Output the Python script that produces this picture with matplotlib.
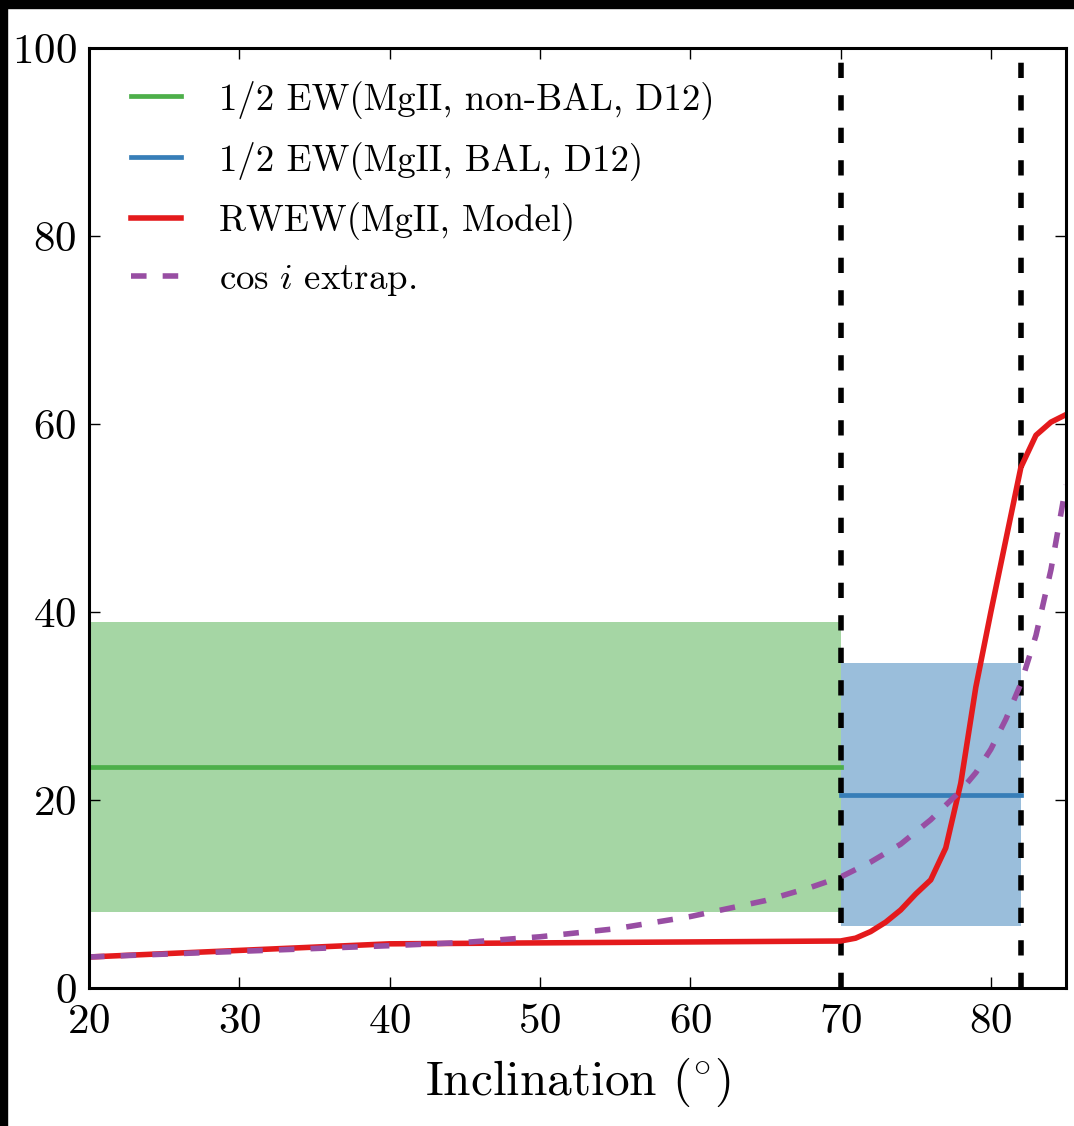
import matplotlib
matplotlib.use("Agg")
import matplotlib.pyplot as plt
from matplotlib.patches import Rectangle

plt.rcParams['font.family'] = 'serif'
plt.rcParams['font.serif'] = ['cmr10']
plt.rcParams['mathtext.fontset'] = 'cm'
plt.rcParams['axes.formatter.use_mathtext'] = True
plt.rcParams['axes.unicode_minus'] = False

# Model rest-frame equivalent width of MgII versus inclination
incl_model = [20, 25, 30, 35, 40, 45, 50, 55, 60, 65, 70, 71, 72, 73, 74, 75,
              76, 77, 78, 79, 80, 81, 82, 83, 84, 85]
rwew_model = [3.3, 3.65, 4.0, 4.35, 4.7, 4.75, 4.8, 4.85, 4.9, 4.95, 5.0, 5.3,
              6.0, 7.0, 8.3, 10.0, 11.5, 14.9, 21.8, 32.0, 40.0, 47.7, 55.4,
              58.8, 60.2, 61.0]

# cos i extrapolation
incl_cos = [20, 25, 30, 35, 40, 45, 50, 55, 60, 65, 68, 70, 72, 74, 76, 78,
            79, 80, 81, 82, 83, 84, 85]
cos_extrap = [3.3, 3.6, 3.9, 4.2, 4.5, 4.85, 5.45, 6.3, 7.6, 9.3, 10.7, 11.8,
              13.4, 15.3, 17.9, 21.0, 22.9, 25.4, 28.6, 32.4, 37.5, 44.5, 53.5]

# Half EW of MgII from D12: (median, low, high) and inclination range
nonbal_range = [20, 70]
nonbal_ew = [23.5, 8.1, 38.9]
bal_range = [70, 82]
bal_ew = [20.5, 6.6, 34.6]

boundaries = [70, 82]

c_green = '#4daf4a'
c_blue = '#377eb8'
c_red = '#e41a1c'
c_purple = '#984ea3'

fig = plt.figure(figsize=(10.74, 11.26), dpi=100)
ax = fig.add_axes([89 / 1074, 1 - 988 / 1126, 977 / 1074, 940 / 1126])

ax.fill_between(nonbal_range, nonbal_ew[1], nonbal_ew[2], color=c_green,
                alpha=0.5, lw=0)
ax.fill_between(bal_range, bal_ew[1], bal_ew[2], color=c_blue, alpha=0.5, lw=0)

for b in boundaries:
    ax.axvline(b, color='k', lw=4, dashes=(2.75, 3.1))

ax.plot(nonbal_range, [nonbal_ew[0]] * 2, color=c_green, lw=3.4,
        label='1/2 EW(MgII, non-BAL, D12)')
ax.plot(bal_range, [bal_ew[0]] * 2, color=c_blue, lw=3.4,
        label='1/2 EW(MgII, BAL, D12)')
ax.plot(incl_model, rwew_model, color=c_red, lw=4,
        label='RWEW(MgII, Model)')
ax.plot(incl_cos, cos_extrap, color=c_purple, lw=4, dashes=(2.8, 2.9),
        label=r'$\cos\,i$ extrap.')

ax.set_xlim(20, 85)
ax.set_ylim(0, 100)
ax.set_xticks([20, 30, 40, 50, 60, 70, 80])
ax.set_yticks([0, 20, 40, 60, 80, 100])
ax.tick_params(which='both', direction='in', top=True, right=True,
               length=8, width=1, labelsize=31)
ax.tick_params(axis='x', pad=11)
ax.tick_params(axis='y', pad=9)
for s in ax.spines.values():
    s.set_linewidth(2.2)

ax.set_xlabel(r'Inclination ($^{\circ}$)', fontsize=35.5, labelpad=11)

ax.legend(loc='upper left', bbox_to_anchor=(0.043, 0.966), frameon=False,
          fontsize=26.5, borderpad=0, borderaxespad=0, handlelength=1.35,
          handletextpad=1.05, labelspacing=0.6)

# dark frame strips along the top and left edges
fig.patches.append(Rectangle((0, 1 - 8 / 1126), 1, 8 / 1126,
                             transform=fig.transFigure, color='k', zorder=10))
fig.patches.append(Rectangle((0, 0), 7 / 1074, 1,
                             transform=fig.transFigure, color='k', zorder=10))

fig.savefig('out.png', dpi=100)
